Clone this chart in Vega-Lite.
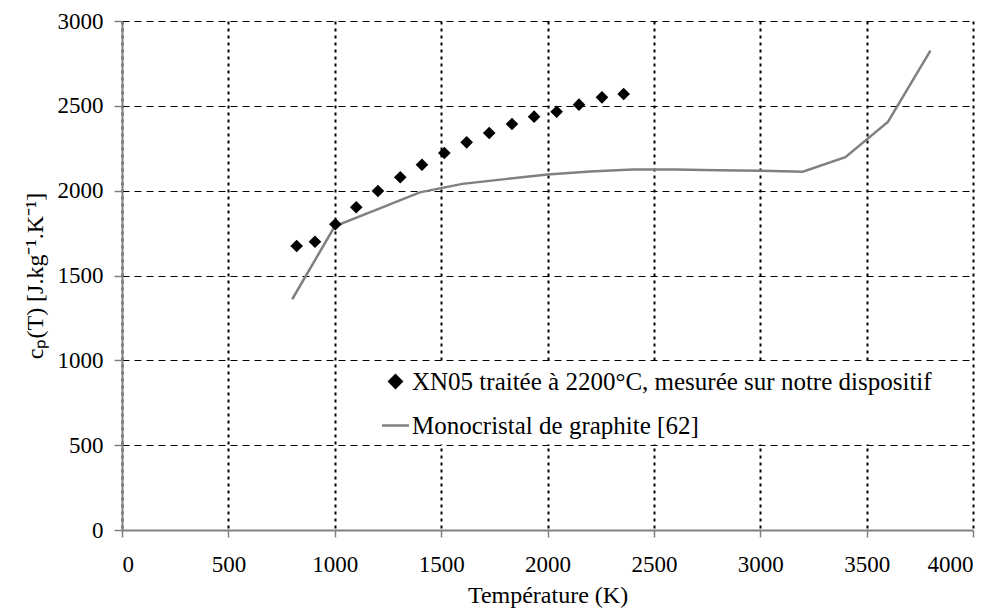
{
  "$schema": "https://vega.github.io/schema/vega-lite/v6.json",
  "width": 851,
  "height": 509,
  "autosize": {"type": "none"},
  "padding": {"left": 122, "top": 21, "right": 29, "bottom": 82},
  "background": "white",
  "config": {
    "font": "Times New Roman, Liberation Serif, DejaVu Serif, serif",
    "view": {"stroke": null},
    "axis": {"labelFont": "Times New Roman, Liberation Serif, serif", "titleFont": "Times New Roman, Liberation Serif, serif"},
    "legend": {"labelFont": "Times New Roman, Liberation Serif, serif"}
  },
  "datasets": {
    "mesure": [
      {"serie": "XN05 traitée à 2200°C, mesurée sur notre dispositif", "T": 821, "cp": 1674},
      {"serie": "XN05 traitée à 2200°C, mesurée sur notre dispositif", "T": 907, "cp": 1699},
      {"serie": "XN05 traitée à 2200°C, mesurée sur notre dispositif", "T": 1003, "cp": 1802},
      {"serie": "XN05 traitée à 2200°C, mesurée sur notre dispositif", "T": 1101, "cp": 1902},
      {"serie": "XN05 traitée à 2200°C, mesurée sur notre dispositif", "T": 1203, "cp": 1998},
      {"serie": "XN05 traitée à 2200°C, mesurée sur notre dispositif", "T": 1308, "cp": 2079},
      {"serie": "XN05 traitée à 2200°C, mesurée sur notre dispositif", "T": 1410, "cp": 2153},
      {"serie": "XN05 traitée à 2200°C, mesurée sur notre dispositif", "T": 1515, "cp": 2222},
      {"serie": "XN05 traitée à 2200°C, mesurée sur notre dispositif", "T": 1620, "cp": 2285},
      {"serie": "XN05 traitée à 2200°C, mesurée sur notre dispositif", "T": 1726, "cp": 2340},
      {"serie": "XN05 traitée à 2200°C, mesurée sur notre dispositif", "T": 1833, "cp": 2393},
      {"serie": "XN05 traitée à 2200°C, mesurée sur notre dispositif", "T": 1937, "cp": 2436},
      {"serie": "XN05 traitée à 2200°C, mesurée sur notre dispositif", "T": 2043, "cp": 2465},
      {"serie": "XN05 traitée à 2200°C, mesurée sur notre dispositif", "T": 2148, "cp": 2507},
      {"serie": "XN05 traitée à 2200°C, mesurée sur notre dispositif", "T": 2256, "cp": 2550},
      {"serie": "XN05 traitée à 2200°C, mesurée sur notre dispositif", "T": 2358, "cp": 2570}
    ],
    "graphite": [
      {"serie": "Monocristal de graphite [62]", "T": 800, "cp": 1360},
      {"serie": "Monocristal de graphite [62]", "T": 1000, "cp": 1790},
      {"serie": "Monocristal de graphite [62]", "T": 1200, "cp": 1890},
      {"serie": "Monocristal de graphite [62]", "T": 1400, "cp": 1990},
      {"serie": "Monocristal de graphite [62]", "T": 1600, "cp": 2040},
      {"serie": "Monocristal de graphite [62]", "T": 1800, "cp": 2068},
      {"serie": "Monocristal de graphite [62]", "T": 2000, "cp": 2095},
      {"serie": "Monocristal de graphite [62]", "T": 2200, "cp": 2113},
      {"serie": "Monocristal de graphite [62]", "T": 2400, "cp": 2125},
      {"serie": "Monocristal de graphite [62]", "T": 2600, "cp": 2125},
      {"serie": "Monocristal de graphite [62]", "T": 2800, "cp": 2120},
      {"serie": "Monocristal de graphite [62]", "T": 3000, "cp": 2118},
      {"serie": "Monocristal de graphite [62]", "T": 3200, "cp": 2112},
      {"serie": "Monocristal de graphite [62]", "T": 3400, "cp": 2197},
      {"serie": "Monocristal de graphite [62]", "T": 3600, "cp": 2405},
      {"serie": "Monocristal de graphite [62]", "T": 3800, "cp": 2825}
    ]
  },
  "encoding": {
    "x": {
      "field": "T", "type": "quantitative",
      "scale": {"domain": [0, 4000], "nice": false, "zero": false},
      "axis": {
        "values": [0, 500, 1000, 1500, 2000, 2500, 3000, 3500, 4000],
        "format": "d",
        "title": "Température (K)",
        "titleFontSize": 24, "titleFontWeight": "normal", "titleColor": "black", "titlePadding": 7,
        "labelFontSize": 23, "labelColor": "black", "labelPadding": 16,
        "domainColor": "#808080", "domainWidth": 2,
        "tickColor": "#808080", "tickSize": 7, "tickWidth": 1.5,
        "grid": true, "gridColor": "black", "gridDash": [3, 4], "gridWidth": 2, "gridOpacity": 1
      }
    },
    "y": {
      "field": "cp", "type": "quantitative",
      "scale": {"domain": [0, 3000], "nice": false},
      "axis": {
        "values": [0, 500, 1000, 1500, 2000, 2500, 3000],
        "format": "d",
        "title": "cₚ(T) [J.kg⁻¹.K⁻¹]",
        "titleFontSize": 24, "titleFontWeight": "normal", "titleColor": "black", "titlePadding": 10,
        "labelFontSize": 23, "labelColor": "black", "labelPadding": 11,
        "domainColor": "#808080", "domainWidth": 2,
        "tickColor": "#808080", "tickSize": 8, "tickWidth": 1.5,
        "grid": true, "gridColor": "black", "gridDash": [7, 5], "gridWidth": 1, "gridOpacity": 1
      }
    }
  },
  "layer": [
    {
      "data": {"name": "graphite"},
      "mark": {"type": "line", "strokeWidth": 2.5, "color": "#808080"},
      "encoding": {
        "color": {
          "field": "serie", "type": "nominal",
          "scale": {"domain": ["XN05 traitée à 2200°C, mesurée sur notre dispositif", "Monocristal de graphite [62]"], "range": ["black", "#808080"]},
          "legend": {
            "title": null,
            "orient": "none", "legendX": 256, "legendY": 343,
            "padding": 5, "fillColor": "white", "strokeColor": null,
            "labelFontSize": 25, "labelColor": "black",
            "labelOffset": 4, "rowPadding": 18, "labelLimit": 800,
            "encode": {
              "symbols": {
                "update": {
                  "fill": {"signal": "datum.value === 'Monocristal de graphite [62]' ? 'transparent' : 'black'"},
                  "stroke": {"signal": "datum.value === 'Monocristal de graphite [62]' ? '#808080' : 'transparent'"},
                  "strokeWidth": {"value": 2.5},
                  "opacity": {"value": 1},
                  "size": {"signal": "datum.value === 'Monocristal de graphite [62]' ? 729 : 150"}
                }
              }
            }
          }
        }
      }
    },
    {
      "data": {"name": "mesure"},
      "mark": {"type": "point", "filled": true, "size": 160, "opacity": 1},
      "encoding": {
        "color": {"field": "serie", "type": "nominal"},
        "shape": {
          "field": "serie", "type": "nominal",
          "scale": {"domain": ["XN05 traitée à 2200°C, mesurée sur notre dispositif", "Monocristal de graphite [62]"], "range": ["diamond", "stroke"]}
        }
      }
    }
  ]
}
